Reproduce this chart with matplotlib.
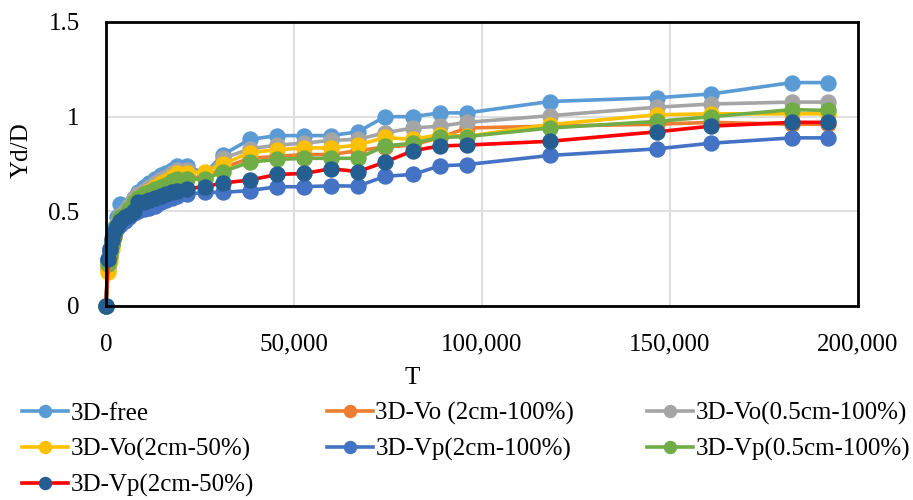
import numpy as np
import matplotlib.pyplot as plt
from matplotlib.ticker import FuncFormatter

plt.rcParams['font.family'] = ['Liberation Serif', 'DejaVu Serif']

# T values (shared by all series)
T = [0, 500, 1000, 1500, 2000, 3000, 3700, 5000, 6200, 7400, 8500, 10000,
     11500, 13000, 14500, 16000, 17500, 18900, 21500, 26300, 31100, 38300,
     45500, 52700, 59800, 67000, 74200, 81600, 88800, 96000, 118000, 146500,
     161000, 182400, 192000]

free_3d = [0, 0.25, 0.30, 0.36, 0.41, 0.47, 0.54, 0.50, 0.53, 0.57, 0.60, 0.63,
           0.65, 0.67, 0.69, 0.70, 0.72, 0.74, 0.74, 0.70, 0.80, 0.88,
           0.90, 0.90, 0.90, 0.92, 1.00, 1.00, 1.02, 1.02, 1.08, 1.10,
           1.12, 1.18, 1.18]
vo_2cm_100 = [0, 0.20, 0.26, 0.32, 0.38, 0.43, 0.46, 0.48, 0.51, 0.55, 0.57, 0.59,
              0.61, 0.62, 0.64, 0.65, 0.67, 0.68, 0.68, 0.68, 0.73, 0.78,
              0.79, 0.80, 0.80, 0.82, 0.84, 0.85, 0.89, 0.94, 0.95, 0.96,
              0.97, 0.96, 0.96]
vo_05cm_100 = [0, 0.22, 0.28, 0.34, 0.39, 0.44, 0.48, 0.50, 0.53, 0.57, 0.59, 0.61,
               0.63, 0.65, 0.67, 0.68, 0.70, 0.72, 0.72, 0.70, 0.78, 0.83,
               0.85, 0.86, 0.875, 0.88, 0.915, 0.94, 0.95, 0.97, 1.005, 1.05,
               1.067, 1.077, 1.077]
vo_2cm_50 = [0, 0.18, 0.24, 0.30, 0.36, 0.42, 0.45, 0.47, 0.50, 0.55, 0.57, 0.59,
             0.61, 0.63, 0.65, 0.66, 0.68, 0.70, 0.70, 0.71, 0.75, 0.81,
             0.826, 0.835, 0.835, 0.85, 0.89, 0.88, 0.905, 0.896, 0.958, 1.01,
             1.015, 1.015, 1.015]
vp_2cm_100 = [0, 0.24, 0.29, 0.33, 0.37, 0.41, 0.43, 0.45, 0.47, 0.49, 0.50, 0.51,
              0.52, 0.53, 0.55, 0.56, 0.57, 0.58, 0.59, 0.60, 0.60, 0.61,
              0.63, 0.63, 0.635, 0.633, 0.685, 0.695, 0.74, 0.747, 0.795, 0.83,
              0.86, 0.888, 0.888]
vp_05cm_100 = [0, 0.22, 0.27, 0.33, 0.38, 0.43, 0.47, 0.48, 0.51, 0.55, 0.57, 0.59,
               0.60, 0.62, 0.63, 0.64, 0.66, 0.67, 0.67, 0.67, 0.71, 0.76,
               0.774, 0.78, 0.78, 0.78, 0.845, 0.86, 0.89, 0.895, 0.94, 0.975,
               1.0, 1.037, 1.033]
vp_2cm_50 = [0, 0.25, 0.30, 0.35, 0.39, 0.42, 0.45, 0.47, 0.48, 0.50, 0.55, 0.55,
             0.56, 0.57, 0.58, 0.59, 0.60, 0.61, 0.62, 0.63, 0.65, 0.665,
             0.695, 0.70, 0.725, 0.71, 0.76, 0.82, 0.845, 0.85, 0.87, 0.92,
             0.95, 0.97, 0.97]

labels = ['3D-free', '3D-Vo (2cm-100%)', '3D-Vo(0.5cm-100%)', '3D-Vo(2cm-50%)',
          '3D-Vp(2cm-100%)', '3D-Vp(0.5cm-100%)', '3D-Vp(2cm-50%)']
series = [free_3d, vo_2cm_100, vo_05cm_100, vo_2cm_50, vp_2cm_100, vp_05cm_100, vp_2cm_50]
line_colors = ['#5B9BD5', '#ED7D31', '#A5A5A5', '#FFC000', '#4472C4', '#70AD47', '#FF0000']
marker_colors = ['#5B9BD5', '#ED7D31', '#A5A5A5', '#FFC000', '#4472C4', '#70AD47', '#255E91']

fs = 18

fig = plt.figure(figsize=(9.13, 5.0), dpi=100)
ax = fig.add_axes([106/913, 1-306/500, 752/913, 284/500])

handles = []
for y, lab, lc, mc in zip(series, labels, line_colors, marker_colors):
    h, = ax.plot(T, y, color=lc, lw=2.6, marker='o', ms=10.8,
                 markerfacecolor=mc, markeredgecolor=mc, label=lab)
    handles.append(h)

ax.set_xlim(0, 200000)
ax.set_ylim(0, 1.5)
ax.set_xticks([0, 50000, 100000, 150000, 200000])
ax.set_yticks([0, 0.5, 1, 1.5])
ax.xaxis.set_major_formatter(FuncFormatter(lambda v, p: f'{int(v):,}'))
ax.yaxis.set_major_formatter(FuncFormatter(lambda v, p: f'{v:g}'))
ax.tick_params(length=0, labelsize=fs)
ax.tick_params(axis='y', pad=19)
ax.tick_params(axis='x', pad=20)
ax.grid(True, color='#D9D9D9', lw=1.2)
ax.set_axisbelow(True)
for s in ax.spines.values():
    s.set_linewidth(2)
    s.set_color('black')
for l in ax.lines:
    l.set_clip_on(False)

ax.set_xlabel('T', fontsize=fs)
ax.xaxis.set_label_coords((412-106)/752, (306-367)/284)
ax.set_ylabel('Yd/D', fontsize=fs)
ax.yaxis.set_label_coords((33-106)/752, (306-150)/284)

# Excel fills the legend row by row
order = [0, 3, 6, 1, 4, 2, 5]
fig.legend([handles[i] for i in order], [labels[i] for i in order],
           loc='upper left', bbox_to_anchor=(22/913, 1-402/500), ncol=3,
           frameon=False, fontsize=fs, handlelength=1.85, handletextpad=0.1,
           columnspacing=2.9, labelspacing=0.52, borderpad=0, borderaxespad=0,
           markerscale=0.8)

fig.savefig('out.png', dpi=100)
